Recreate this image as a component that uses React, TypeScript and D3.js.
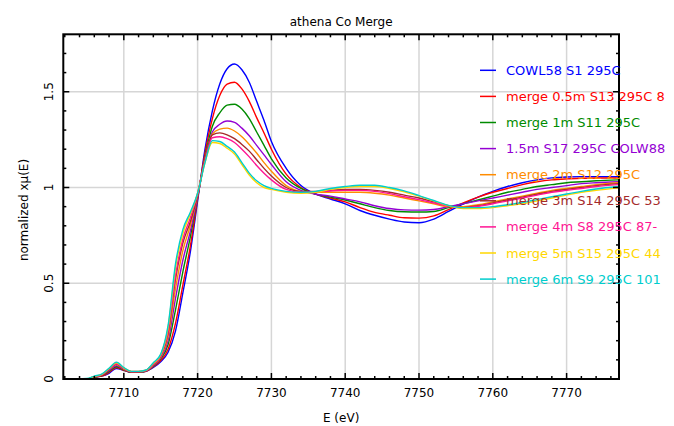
import { useEffect, useRef } from "react";
import * as d3 from "d3";

// energy grid (eV)
const energy = [
  7701.8, 7705, 7706, 7707, 7708, 7709, 7710, 7711, 7712, 7713,
  7714, 7715, 7716, 7717, 7718, 7719, 7720, 7721, 7722,
  7723, 7724, 7725, 7726, 7727, 7728, 7729,
  7730, 7732, 7734, 7736, 7738, 7740, 7742, 7744, 7746, 7748, 7750, 7752,
  7754, 7756, 7758, 7760, 7762, 7764, 7766, 7768, 7770, 7772, 7774, 7777,
];

const cowl58 = [
  0, 0, 0.01, 0.015, 0.03, 0.055, 0.045, 0.035, 0.035, 0.04,
  0.06, 0.09, 0.14, 0.25, 0.45, 0.66, 0.93, 1.2, 1.4,
  1.54, 1.62, 1.645, 1.615, 1.55, 1.45, 1.35,
  1.24, 1.1, 1.01, 0.965, 0.94, 0.915, 0.88, 0.855, 0.835, 0.82, 0.816, 0.835,
  0.875, 0.915, 0.95, 0.98, 1.005, 1.025, 1.04, 1.05, 1.055, 1.057, 1.057, 1.056,
];
const merge05 = [
  0, 0, 0.01, 0.015, 0.035, 0.06, 0.045, 0.035, 0.035, 0.04,
  0.064, 0.097, 0.155, 0.29, 0.49, 0.69, 0.94, 1.18, 1.36,
  1.48, 1.54, 1.55, 1.515, 1.45, 1.365, 1.285,
  1.2, 1.07, 1.0, 0.965, 0.945, 0.925, 0.895, 0.87, 0.855, 0.842, 0.84, 0.852,
  0.885, 0.92, 0.95, 0.975, 0.995, 1.015, 1.03, 1.04, 1.045, 1.048, 1.05, 1.05,
];
const merge1 = [
  0, 0, 0.01, 0.018, 0.04, 0.065, 0.048, 0.036, 0.036, 0.042,
  0.068, 0.105, 0.18, 0.36, 0.56, 0.74, 0.95, 1.16, 1.32,
  1.39, 1.43, 1.435, 1.41, 1.36, 1.29, 1.22,
  1.15, 1.05, 0.995, 0.965, 0.95, 0.935, 0.915, 0.895, 0.88, 0.873, 0.872, 0.875,
  0.895, 0.915, 0.935, 0.955, 0.975, 0.99, 1.005, 1.015, 1.025, 1.03, 1.035, 1.04,
];
const s17 = [
  0, 0, 0.012, 0.02, 0.045, 0.07, 0.05, 0.037, 0.037, 0.043,
  0.07, 0.11, 0.2, 0.42, 0.62, 0.77, 0.95, 1.15, 1.29,
  1.33, 1.347, 1.34, 1.31, 1.27, 1.22, 1.17,
  1.12, 1.03, 0.985, 0.965, 0.955, 0.94, 0.925, 0.905, 0.89, 0.883, 0.882, 0.885,
  0.9, 0.915, 0.93, 0.945, 0.96, 0.975, 0.99, 1.0, 1.01, 1.02, 1.025, 1.03,
];
const merge2 = [
  0, 0, 0.012, 0.02, 0.05, 0.075, 0.052, 0.038, 0.038, 0.044,
  0.074, 0.115, 0.22, 0.47, 0.67, 0.8, 0.96, 1.15, 1.28,
  1.305, 1.31, 1.295, 1.265, 1.225, 1.18, 1.13,
  1.085, 1.01, 0.98, 0.975, 0.975, 0.975, 0.975, 0.97, 0.96, 0.945, 0.93, 0.915,
  0.9, 0.9, 0.91, 0.925, 0.94, 0.955, 0.97, 0.985, 0.995, 1.005, 1.015, 1.025,
];
const merge3 = [
  0, 0, 0.012, 0.02, 0.05, 0.078, 0.054, 0.038, 0.038, 0.045,
  0.076, 0.12, 0.24, 0.52, 0.71, 0.82, 0.96, 1.15, 1.275,
  1.285, 1.275, 1.255, 1.225, 1.19, 1.145, 1.1,
  1.06, 1.0, 0.98, 0.98, 0.985, 0.99, 0.99, 0.985, 0.975, 0.96, 0.945, 0.925,
  0.905, 0.895, 0.905, 0.92, 0.935, 0.95, 0.965, 0.98, 0.99, 1.0, 1.01, 1.02,
];
const merge4 = [
  0, 0, 0.013, 0.022, 0.052, 0.08, 0.055, 0.039, 0.039, 0.045,
  0.078, 0.122, 0.25, 0.54, 0.73, 0.84, 0.97, 1.14, 1.26,
  1.265, 1.255, 1.235, 1.2, 1.16, 1.115, 1.075,
  1.04, 0.99, 0.975, 0.977, 0.982, 0.985, 0.985, 0.98, 0.968, 0.952, 0.937, 0.92,
  0.903, 0.895, 0.902, 0.915, 0.93, 0.945, 0.96, 0.975, 0.985, 0.995, 1.005, 1.015,
];
const merge5 = [
  0, 0, 0.014, 0.024, 0.055, 0.085, 0.058, 0.04, 0.04, 0.046,
  0.082, 0.127, 0.27, 0.58, 0.76, 0.86, 0.97, 1.13, 1.235,
  1.23, 1.205, 1.175, 1.12, 1.065, 1.025, 1.0,
  0.99, 0.975, 0.97, 0.975, 0.99, 1.0, 1.005, 1.005, 0.995, 0.978, 0.955, 0.93,
  0.905, 0.89, 0.89, 0.895, 0.905, 0.915, 0.93, 0.945, 0.96, 0.975, 0.985, 0.998,
];
const merge6 = [
  0, 0.003, 0.015, 0.025, 0.056, 0.088, 0.06, 0.04, 0.04, 0.047,
  0.085, 0.13, 0.28, 0.6, 0.78, 0.87, 0.97, 1.13, 1.245,
  1.24, 1.215, 1.185, 1.13, 1.075, 1.035, 1.01,
  0.995, 0.98, 0.975, 0.98, 0.995, 1.005, 1.012, 1.012, 1.0, 0.982, 0.958, 0.932,
  0.907, 0.895, 0.895, 0.9, 0.91, 0.922, 0.937, 0.952, 0.966, 0.98, 0.992, 1.005,
];

const seriesLabels = [
  "COWL58 S1 295C",
  "merge 0.5m S13 295C 8",
  "merge 1m S11 295C",
  "1.5m S17 295C COLW88",
  "merge 2m S12 295C",
  "merge 3m S14 295C 53",
  "merge 4m S8 295C 87-",
  "merge 5m S15 295C 44",
  "merge 6m S9 295C 101",
];
const seriesValues = [cowl58, merge05, merge1, s17, merge2, merge3, merge4, merge5, merge6];
const seriesColors = [
  "#0000ff", "#ff0000", "#008b00", "#9400d3", "#ff8c00",
  "#a52a2a", "#ff1493", "#ffd700", "#00cdcd",
];

const xTicks = [7710, 7720, 7730, 7740, 7750, 7760, 7770];
const yTicks = [0, 0.5, 1, 1.5];
const yTickLabels = ["0", "0.5", "1", "1.5"];

const FONT = "DejaVu Sans, sans-serif";

function renderChart(el: SVGSVGElement) {
  const w = 674,
    h = 426;
  const left = 63.3,
    right = 619,
    top = 34.3,
    bottom = 379;
  const svg = d3.select(el);
  svg.selectAll("*").remove();
  svg.attr("width", w).attr("height", h).style("background", "#fff");

  const x = d3.scaleLinear().domain([7701.8, 7777.1]).range([left, right]);
  const y = d3.scaleLinear().domain([0, 1.8]).range([bottom, top]);

  svg
    .append("defs")
    .append("clipPath")
    .attr("id", "plot-clip")
    .append("rect")
    .attr("x", left)
    .attr("y", top)
    .attr("width", right - left)
    .attr("height", bottom - top);

  // grid
  xTicks.forEach((t) => {
    svg
      .append("line")
      .attr("x1", x(t))
      .attr("x2", x(t))
      .attr("y1", top)
      .attr("y2", bottom)
      .attr("stroke", "#d6d6d6")
      .attr("stroke-width", 1.5);
  });
  yTicks.slice(1).forEach((t) => {
    svg
      .append("line")
      .attr("x1", left)
      .attr("x2", right)
      .attr("y1", y(t))
      .attr("y2", y(t))
      .attr("stroke", "#d6d6d6")
      .attr("stroke-width", 1.5);
  });

  // curves
  const line = d3
    .line<number>()
    .x((_, i) => x(energy[i]))
    .y((d) => y(d))
    .curve(d3.curveMonotoneX);
  const g = svg.append("g").attr("clip-path", "url(#plot-clip)");
  seriesValues.forEach((vals, i) => {
    g.append("path")
      .attr("d", line(vals))
      .attr("fill", "none")
      .attr("stroke", seriesColors[i])
      .attr("stroke-width", 1.4);
  });

  // ticks (inward, both sides)
  const ticks = svg.append("g").attr("stroke", "#000").attr("stroke-width", 1.5);
  d3.range(7702, 7777, 2).forEach((t) => {
    const major = t % 10 === 0;
    const len = major ? 6 : 3;
    ticks.append("line").attr("x1", x(t)).attr("x2", x(t)).attr("y1", bottom).attr("y2", bottom - len);
    ticks.append("line").attr("x1", x(t)).attr("x2", x(t)).attr("y1", top).attr("y2", top + len);
  });
  d3.range(1, 18).forEach((k) => {
    const t = k / 10;
    const major = k % 5 === 0;
    const len = major ? 6 : 3;
    ticks.append("line").attr("x1", left).attr("x2", left + len).attr("y1", y(t)).attr("y2", y(t));
    ticks.append("line").attr("x1", right).attr("x2", right - len).attr("y1", y(t)).attr("y2", y(t));
  });

  // frame
  svg
    .append("rect")
    .attr("x", left)
    .attr("y", top)
    .attr("width", right - left)
    .attr("height", bottom - top)
    .attr("fill", "none")
    .attr("stroke", "#000")
    .attr("stroke-width", 2);

  // tick labels
  xTicks.forEach((t) => {
    svg
      .append("text")
      .attr("x", x(t))
      .attr("y", 397)
      .attr("text-anchor", "middle")
      .attr("font-family", FONT)
      .attr("font-size", 12)
      .text(String(t));
  });
  yTicks.forEach((t, i) => {
    svg
      .append("text")
      .attr("transform", `translate(49,${y(t)}) rotate(-90)`)
      .attr("text-anchor", "middle")
      .attr("dy", "0.35em")
      .attr("font-family", FONT)
      .attr("font-size", 12)
      .text(yTickLabels[i]);
  });

  // titles
  svg
    .append("text")
    .attr("x", (left + right) / 2)
    .attr("y", 26)
    .attr("text-anchor", "middle")
    .attr("font-family", FONT)
    .attr("font-size", 12)
    .text("athena Co Merge");
  svg
    .append("text")
    .attr("x", (left + right) / 2)
    .attr("y", 422)
    .attr("text-anchor", "middle")
    .attr("font-family", FONT)
    .attr("font-size", 12)
    .text("E (eV)");
  svg
    .append("text")
    .attr("transform", `translate(24,210) rotate(-90)`)
    .attr("text-anchor", "middle")
    .attr("dy", "0.35em")
    .attr("font-family", FONT)
    .attr("font-size", 12)
    .text("normalized xμ(E)");

  // legend
  seriesLabels.forEach((label, i) => {
    const ly = 70.3 + i * 26.1;
    svg
      .append("line")
      .attr("x1", 480)
      .attr("x2", 496)
      .attr("y1", ly)
      .attr("y2", ly)
      .attr("stroke", seriesColors[i])
      .attr("stroke-width", 1.5);
    svg
      .append("text")
      .attr("x", 506)
      .attr("y", ly)
      .attr("dy", "0.35em")
      .attr("font-family", FONT)
      .attr("font-size", 13)
      .attr("fill", seriesColors[i])
      .text(label);
  });
}

export default function App() {
  const ref = useRef<SVGSVGElement>(null);
  useEffect(() => {
    if (ref.current) renderChart(ref.current);
  }, []);
  return (
    <div style={{ position: "absolute", left: 0, top: 0 }}>
      <svg ref={ref} />
    </div>
  );
}
